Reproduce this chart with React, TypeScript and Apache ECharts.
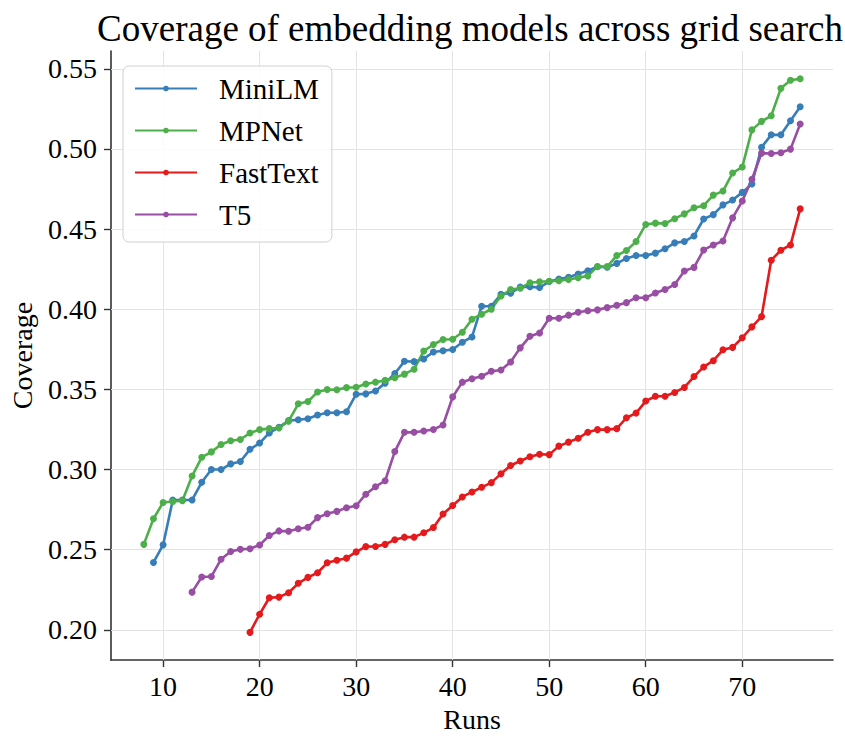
import React, { useEffect, useRef } from "react";
import * as echarts from "echarts";

const seriesNames = ["MiniLM", "MPNet", "FastText", "T5"];
const seriesColors = ["#377eb8", "#4daf4a", "#e41a1c", "#984ea3"];

const miniLMStart = 9;
const miniLM = [
  0.242, 0.253, 0.281, 0.281, 0.281, 0.292, 0.300, 0.300, 0.3035, 0.305,
  0.3126, 0.3165, 0.3228, 0.3263, 0.3305, 0.331, 0.3317, 0.334, 0.3354, 0.3354,
  0.336, 0.347, 0.3472, 0.349, 0.3539, 0.3599, 0.3675, 0.3673, 0.369, 0.3733,
  0.3741, 0.3749, 0.3794, 0.3827, 0.4019, 0.4019, 0.4093, 0.410, 0.4138, 0.414,
  0.4135, 0.4173, 0.4189, 0.420, 0.422, 0.424, 0.4265, 0.4262, 0.4286, 0.4317,
  0.4335, 0.4335, 0.435, 0.4377, 0.4414, 0.4422, 0.4457, 0.4563, 0.459, 0.4651,
  0.4681, 0.4729, 0.4782, 0.5011, 0.5088, 0.5088, 0.5176, 0.5263,
];

const mpNetStart = 8;
const mpNet = [
  0.2533, 0.2693, 0.2794, 0.280, 0.2805, 0.2959, 0.3076, 0.311, 0.3156, 0.3179,
  0.3187, 0.3228, 0.3249, 0.3255, 0.3259, 0.3302, 0.341, 0.3424, 0.3484, 0.3499,
  0.3498, 0.3511, 0.3513, 0.3534, 0.3545, 0.3556, 0.3572, 0.3595, 0.3626, 0.3739,
  0.378, 0.3811, 0.3813, 0.3856, 0.3938, 0.3969, 0.400, 0.4082, 0.4123, 0.4131,
  0.4165, 0.4171, 0.4175, 0.4178, 0.4186, 0.4196, 0.4208, 0.4267, 0.4266, 0.4335,
  0.4366, 0.4422, 0.4529, 0.4537, 0.4535, 0.4565, 0.4595, 0.4633, 0.4646, 0.4712,
  0.4737, 0.485, 0.4887, 0.5119, 0.5172, 0.5207, 0.5378, 0.5428, 0.5438,
];

const fastTextStart = 19;
const fastText = [
  0.1984, 0.2097, 0.220, 0.2204, 0.2231, 0.229, 0.2327, 0.2356, 0.2418, 0.2434,
  0.2447, 0.2486, 0.2519, 0.252, 0.2533, 0.2562, 0.2578, 0.2578, 0.2605, 0.2638,
  0.2722, 0.2776, 0.2829, 0.286, 0.2889, 0.2918, 0.2973, 0.3025, 0.3053, 0.308,
  0.3095, 0.3093, 0.3146, 0.3171, 0.3195, 0.3233, 0.3249, 0.3249, 0.3255, 0.3323,
  0.3352, 0.3427, 0.3457, 0.3457, 0.3481, 0.3512, 0.358, 0.364, 0.3679, 0.3747,
  0.3762, 0.3822, 0.389, 0.3954, 0.4306, 0.4368, 0.4401, 0.4626,
];

const t5Start = 13;
const t5 = [
  0.2235, 0.2329, 0.2333, 0.244, 0.2488, 0.2502, 0.2506, 0.2529, 0.2588, 0.2617,
  0.2615, 0.263, 0.264, 0.270, 0.2724, 0.2739, 0.2761, 0.2774, 0.2846, 0.2893,
  0.293, 0.3112, 0.3232, 0.3232, 0.324, 0.325, 0.3278, 0.3453, 0.3545, 0.3566,
  0.3582, 0.3613, 0.3621, 0.3671, 0.3759, 0.3831, 0.3852, 0.3944, 0.3944, 0.3963,
  0.3981, 0.399, 0.3996, 0.401, 0.4025, 0.4041, 0.4072, 0.4072, 0.4101, 0.4123,
  0.4154, 0.4239, 0.4261, 0.437, 0.4401, 0.4426, 0.457, 0.4675, 0.4811, 0.4974,
  0.4972, 0.4976, 0.4999, 0.5156,
];

const xTicks = [10, 20, 30, 40, 50, 60, 70];
const yTicks = [0.2, 0.25, 0.3, 0.35, 0.4, 0.45, 0.5, 0.55];

const xMin = 4.6;
const xMax = 79.4;
const yMin = 0.1811;
const yMax = 0.5611;

const FONT = "'Liberation Serif', 'Times New Roman', serif";

function toPairs(start: number, values: number[]) {
  return values.map((v, i) => [start + i, v]);
}

export default function App() {
  const ref = useRef<HTMLDivElement>(null);

  useEffect(() => {
    if (!ref.current) return;
    const chart = echarts.init(ref.current, null, { renderer: "svg" });
    const allData = [
      toPairs(miniLMStart, miniLM),
      toPairs(mpNetStart, mpNet),
      toPairs(fastTextStart, fastText),
      toPairs(t5Start, t5),
    ];
    const gridStyle = { color: "#e3e3e3", width: 1, type: "solid" as const };
    const series: any[] = allData.map((d, i) => ({
      name: seriesNames[i],
      type: "line",
      data: d,
      z: 10,
      symbol: "circle",
      symbolSize: 7,
      showSymbol: true,
      lineStyle: { color: seriesColors[i], width: 2.6 },
      itemStyle: { color: seriesColors[i] },
      emphasis: { disabled: true },
    }));
    series[0].markLine = {
      silent: true,
      z: 1,
      symbol: ["none", "none"],
      label: { show: false },
      lineStyle: gridStyle,
      emphasis: { disabled: true },
      data: [
        ...xTicks.map((v) => ({ xAxis: v })),
        ...yTicks.map((v) => ({ yAxis: v })),
      ],
    };

    chart.setOption({
      animation: false,
      backgroundColor: "#ffffff",
      title: {
        text: "Coverage of embedding models across grid search",
        left: 470,
        top: 10,
        padding: 0,
        textAlign: "center",
        textStyle: {
          fontFamily: FONT,
          fontSize: 37,
          fontWeight: "normal",
          color: "#000000",
        },
      },
      grid: { left: 109, right: 12, top: 51, bottom: 71, containLabel: false },
      legend: {
        orient: "vertical",
        left: 123,
        top: 66,
        data: seriesNames,
        itemWidth: 62,
        itemHeight: 7,
        itemGap: 13,
        padding: [8, 13, 13, 11],
        backgroundColor: "rgba(255,255,255,0.85)",
        borderColor: "#d0d0d0",
        borderWidth: 1,
        borderRadius: 6,
        textStyle: {
          fontFamily: FONT,
          fontSize: 29,
          color: "#000000",
          padding: [0, 0, 0, 17],
        },
      },
      xAxis: {
        type: "value",
        min: xMin,
        max: xMax,
        name: "Runs",
        nameLocation: "middle",
        nameGap: 41,
        nameTextStyle: { fontFamily: FONT, fontSize: 28, color: "#000000" },
        axisLine: { show: true, lineStyle: { color: "#333333", width: 1.6 } },
        axisTick: {
          show: true,
          length: 7,
          customValues: xTicks,
          lineStyle: { color: "#333333", width: 1.4 },
        },
        axisLabel: {
          customValues: xTicks,
          margin: 12,
          fontFamily: FONT,
          fontSize: 28,
          color: "#000000",
        },
        splitLine: { show: false },
      },
      yAxis: {
        type: "value",
        min: yMin,
        max: yMax,
        name: "Coverage",
        nameLocation: "middle",
        nameGap: 75,
        nameTextStyle: { fontFamily: FONT, fontSize: 28, color: "#000000" },
        axisLine: { show: true, lineStyle: { color: "#333333", width: 1.6 } },
        axisTick: {
          show: true,
          length: 7,
          customValues: yTicks,
          lineStyle: { color: "#333333", width: 1.4 },
        },
        axisLabel: {
          customValues: yTicks,
          margin: 14,
          fontFamily: FONT,
          fontSize: 28,
          color: "#000000",
          formatter: (v: number) => v.toFixed(2),
        },
        splitLine: { show: false },
      },
      series,
    });
    return () => chart.dispose();
  }, []);

  return (
    <div
      ref={ref}
      style={{ position: "fixed", left: 0, top: 0, width: 845, height: 738, background: "#fff" }}
    />
  );
}
